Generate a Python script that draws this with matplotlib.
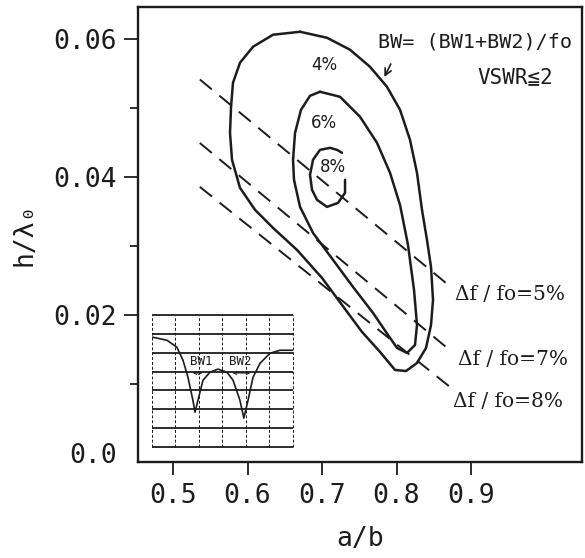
import matplotlib.pyplot as plt

# BW contours (a/b, h/lambda0)
bw4_x = [0.6705, 0.7067, 0.7376, 0.7644, 0.7872, 0.8047, 0.8181, 0.8275, 0.8342, 0.8409,
         0.8463, 0.8490, 0.8463, 0.8396, 0.8275, 0.8128, 0.7980, 0.7779, 0.7537, 0.7268,
         0.7000, 0.6664, 0.6342, 0.6101, 0.5899, 0.5792, 0.5765, 0.5779, 0.5805, 0.5899,
         0.6074, 0.6342, 0.6705]
bw4_y = [0.06101, 0.06014, 0.05841, 0.05594, 0.05304, 0.04971, 0.04536, 0.04058, 0.03522, 0.03087,
         0.02696, 0.02217, 0.01855, 0.01522, 0.01304, 0.01188, 0.01203, 0.01464, 0.01754, 0.02145,
         0.02536, 0.02942, 0.03261, 0.03522, 0.03841, 0.04246, 0.04638, 0.05014, 0.05362, 0.05652,
         0.05884, 0.06058, 0.06101]

bw6_x = [0.6973, 0.7242, 0.7510, 0.7738, 0.7913, 0.8047, 0.8154, 0.8235, 0.8275, 0.8248,
         0.8141, 0.8007, 0.7886, 0.7685, 0.7416, 0.7148, 0.6879, 0.6705, 0.6624, 0.6611,
         0.6638, 0.6718, 0.6839, 0.6973]
bw6_y = [0.05232, 0.05159, 0.04870, 0.04493, 0.04058, 0.03594, 0.03014, 0.02362, 0.01855, 0.01565,
         0.01449, 0.01522, 0.01710, 0.02029, 0.02406, 0.02797, 0.03188, 0.03565, 0.03957, 0.04246,
         0.04638, 0.04971, 0.05174, 0.05232]

bw8_x = [0.7268, 0.7201, 0.7107, 0.6973, 0.6879, 0.6839, 0.6866, 0.6933, 0.7067, 0.7215,
         0.7309, 0.7309]
bw8_y = [0.04348, 0.04391, 0.04420, 0.04391, 0.04246, 0.04029, 0.03812, 0.03667, 0.03565, 0.03623,
         0.03768, 0.03957]

contour_labels = ['4%', '6%', '8%']
contour_label_x = [0.7027, 0.7027, 0.7148]
contour_label_y = [0.0562, 0.0478, 0.0414]

# constant df/fo lines (start, end)
df_labels = ['Δf / fo=5%', 'Δf / fo=7%', 'Δf / fo=8%']
df_x = [[0.536, 0.8745], [0.536, 0.8745], [0.536, 0.8718]]
df_y = [[0.0541, 0.0239], [0.0449, 0.01464], [0.03855, 0.00957]]
df_label_x = [0.879, 0.883, 0.876]
df_label_y = [0.0229, 0.0136, 0.0074]

# inset: sketch of the double-resonance response (grid units)
resp_x = [0.04, 0.64, 1.06, 1.32, 1.53, 1.74, 1.83, 1.96, 2.17, 2.47, 2.81, 3.19, 3.45,
          3.74, 3.91, 4.09, 4.30, 4.60, 5.02, 5.45, 6.0]
resp_y = [5.82, 5.66, 5.29, 4.60, 3.70, 2.49, 1.85, 2.49, 3.54, 3.97, 4.13, 3.97, 3.54,
          2.49, 1.53, 2.49, 3.70, 4.44, 4.97, 5.13, 5.13]

ink = '#1c1c1c'
mono = ['DejaVu Sans Mono', 'DejaVu Sans']

fig = plt.figure(figsize=(5.85, 5.58), dpi=100)
ax = fig.add_axes([0.2359, 0.172, 0.759, 0.8155])

for xs, ys in [(bw4_x, bw4_y), (bw6_x, bw6_y), (bw8_x, bw8_y)]:
    ax.plot(xs, ys, color=ink, lw=1.8, solid_joinstyle='round', solid_capstyle='round')

for lab, x, y in zip(contour_labels, contour_label_x, contour_label_y):
    ax.text(x, y, lab, fontsize=12, ha='center', va='center', color=ink)

for xs, ys, lab, lx, ly in zip(df_x, df_y, df_labels, df_label_x, df_label_y):
    ax.plot(xs, ys, color=ink, lw=1.4, dashes=(8, 5))
    ax.text(lx, ly, lab, fontsize=14.5, family='DejaVu Serif', ha='left', va='center', color=ink)

ax.annotate('', xy=(0.782, 0.0541), xytext=(0.794, 0.0567),
            arrowprops=dict(arrowstyle='->', lw=1.2, color=ink, mutation_scale=12))
ax.text(0.775, 0.0595, 'BW= (BW1+BW2)/fo', fontsize=14.5, family=mono, ha='left', va='center', color=ink)
ax.text(0.908, 0.0544, 'VSWR≦2', fontsize=15, family=mono, ha='left', va='center', color=ink)

ax.set_xlim(0.453, 1.049)
ax.set_ylim(-0.0013, 0.0646)
ax.set_xticks([0.5, 0.6, 0.7, 0.8, 0.9])
ax.set_xticklabels(['0.5', '0.6', '0.7', '0.8', '0.9'])
ax.set_yticks([0.0, 0.02, 0.04, 0.06])
ax.set_yticklabels(['0.0', '0.02', '0.04', '0.06'])
ax.set_yticks([0.01, 0.03, 0.05], minor=True)
ax.yaxis.get_major_ticks()[0].tick1line.set_visible(False)
ax.tick_params(axis='x', length=9, width=1.3, pad=6, labelsize=19, color=ink, labelcolor=ink)
ax.tick_params(axis='y', which='major', length=10, width=1.3, pad=5, labelsize=19, color=ink, labelcolor=ink)
ax.tick_params(axis='y', which='minor', length=6, width=1.3, color=ink)
for lab in ax.get_xticklabels() + ax.get_yticklabels():
    lab.set_family(mono)
for sp in ax.spines.values():
    sp.set_linewidth(1.7)
    sp.set_color(ink)

ax.set_xlabel('a/b', fontsize=19, family=mono, color=ink, labelpad=12)
ax.set_ylabel('h/λ₀', fontsize=19, family=mono, color=ink, labelpad=12)

# inset
axi = fig.add_axes([0.2598, 0.1989, 0.241, 0.2366])
axi.set_xlim(0, 6)
axi.set_ylim(0, 7)
axi.hlines(range(8), 0, 6, color=ink, lw=1.3, clip_on=False)
axi.vlines(range(7), 0, 7, color=ink, lw=0.7, linestyles=(0, (3, 2)), clip_on=False)
axi.plot(resp_x, resp_y, color=ink, lw=1.2)
axi.text(2.09, 4.55, 'BW1', fontsize=9, family=mono, ha='center', va='center', color=ink)
axi.text(3.74, 4.55, 'BW2', fontsize=9, family=mono, ha='center', va='center', color=ink)
for x0, x1 in [(1.62, 2.26), (3.32, 4.3)]:
    axi.annotate('', xy=(x0, 3.92), xytext=(x1, 3.92),
                 arrowprops=dict(arrowstyle='<->', lw=0.7, color=ink, mutation_scale=5))
axi.set_xticks([])
axi.set_yticks([])
for sp in axi.spines.values():
    sp.set_visible(False)

fig.savefig('out.png', dpi=100)
